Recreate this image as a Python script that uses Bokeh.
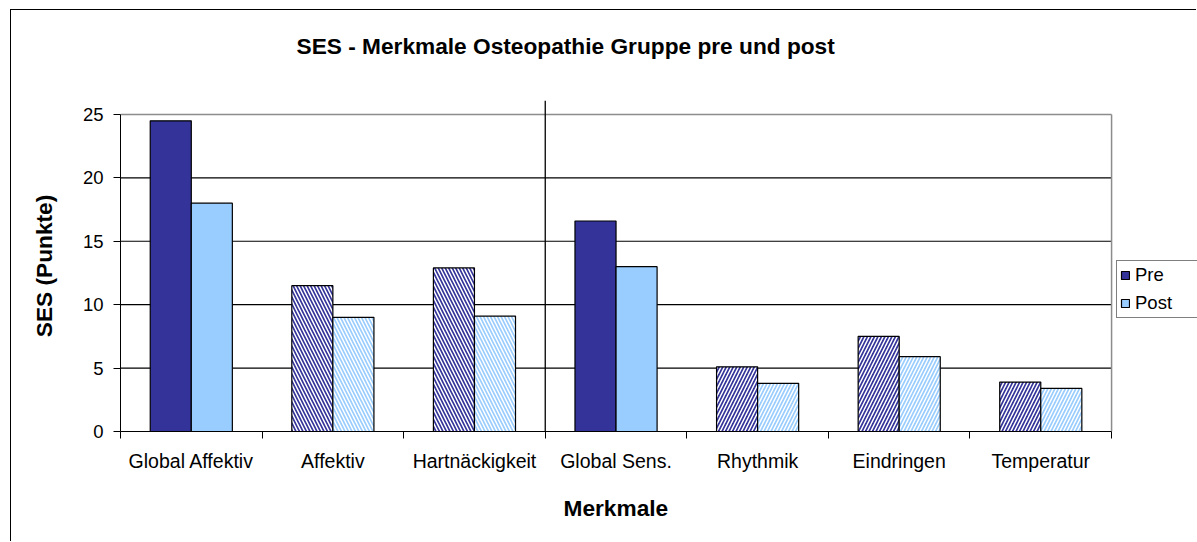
import numpy as np
from bokeh.plotting import figure
from bokeh.models import (ColumnDataSource, FixedTicker, Legend, LegendItem,
                          Span, Title)
from bokeh.core.properties import field
from bokeh.embed import file_html
from bokeh.resources import INLINE

# ---- data ----
categories = ["Global Affektiv", "Affektiv", "Hartnäckigkeit", "Global Sens.",
              "Rhythmik", "Eindringen", "Temperatur"]
pre = [24.5, 11.5, 12.9, 16.6, 5.1, 7.5, 3.9]
post = [18.0, 9.0, 9.1, 13.0, 3.8, 5.9, 3.4]
series = ["Pre", "Post"]
y_ticks = [0, 5, 10, 15, 20, 25]
first_group_size = 3
title_text = "SES - Merkmale Osteopathie Gruppe pre und post"
x_label = "Merkmale"
y_label = "SES (Punkte)"

# ---- styles ----
patterns = [" ", "\\", "\\", " ", "/", "/", "/"]
PRE_COL = "#333399"
POST_COL = "#99CCFF"
GREY = "#8c8c8c"
FONT = "Liberation Sans"

n = len(categories)
centers = np.arange(n) + 0.5
bw = 0.29
src = ColumnDataSource(dict(x_pre=centers - bw / 2, x_post=centers + bw / 2,
                            pre=pre, post=post, pat=patterns))

ymax = y_ticks[-1]
grid_vals = [t for t in y_ticks if 0 < t < ymax]

# frame runs on to the right canvas edge so that the legend can sit in it
p = figure(width=1186, height=532, x_range=(0, n * 1.0867), y_range=(0, ymax * 1.044),
           output_backend="svg", toolbar_location=None,
           min_border_left=109, min_border_right=0,
           min_border_top=90, min_border_bottom=110)
p.styles = {"margin-left": "10px", "margin-top": "9px",
            "border-left": "1px solid black", "border-top": "1px solid black"}

p.add_layout(Title(text=" ", text_font_size="20px", standoff=16), "above")
p.add_layout(Title(text=title_text, align="left", offset=176, standoff=4,
                   text_font=FONT, text_font_size="22.7px", text_font_style="bold",
                   text_color="black"), "above")

# horizontal grid lines limited to the plot area
p.segment(x0=[0] * len(grid_vals), x1=[n] * len(grid_vals), y0=grid_vals, y1=grid_vals,
          line_color="black", line_width=1.2)
# plot-area border (top and right, grey)
p.segment(x0=[0, n], y0=[ymax, 0], x1=[n, n], y1=[ymax, ymax],
          line_color=GREY, line_width=1.5)

r_pre = p.vbar(x="x_pre", top="pre", bottom=0, width=bw, source=src,
               fill_color=PRE_COL, line_color="black", line_width=1.2,
               hatch_pattern=field("pat"), hatch_color="white",
               hatch_weight=1.5, hatch_scale=7)
r_post = p.vbar(x="x_post", top="post", bottom=0, width=bw, source=src,
                fill_color=POST_COL, line_color="black", line_width=1.2,
                hatch_pattern=field("pat"), hatch_color="white",
                hatch_weight=1.5, hatch_scale=7)

# axes
xa = p.xaxis[0]
xa.ticker = FixedTicker(ticks=list(centers), minor_ticks=list(range(n + 1)))
xa.bounds = (0, n)
xa.major_label_overrides = {float(c): name for c, name in zip(centers, categories)}
xa.major_tick_line_color = None
xa.major_tick_out = 7
xa.major_tick_in = 0
xa.minor_tick_line_color = "black"
xa.minor_tick_out = 7
xa.minor_tick_in = 0
xa.axis_line_color = "black"
xa.major_label_text_font = FONT
xa.major_label_text_font_size = "19.5px"
xa.major_label_text_color = "black"
xa.major_label_standoff = 11

p.add_layout(Title(text=x_label, align="left", offset=443, standoff=40,
                   vertical_align="top",
                   text_font=FONT, text_font_size="22.7px", text_font_style="bold",
                   text_color="black"), "below")

ya = p.yaxis[0]
ya.ticker = FixedTicker(ticks=y_ticks)
ya.bounds = (0, ymax)
ya.minor_tick_line_color = None
ya.major_tick_out = 7
ya.major_tick_in = 0
ya.major_tick_line_color = "black"
ya.axis_line_color = "black"
ya.major_label_text_font = FONT
ya.major_label_text_font_size = "18.5px"
ya.major_label_text_color = "black"
ya.major_label_standoff = 10
ya.axis_label = y_label
ya.axis_label_text_font = FONT
ya.axis_label_text_font_size = "22.7px"
ya.axis_label_text_font_style = "bold"
ya.axis_label_text_color = "black"
ya.axis_label_standoff = 23

p.grid.visible = False
p.outline_line_color = None

# separator between the two groups
p.add_layout(Span(location=first_group_size, dimension="height",
                  line_color="black", line_width=1.3))

legend = Legend(items=[LegendItem(label=series[0], renderers=[r_pre], index=0),
                       LegendItem(label=series[1], renderers=[r_post], index=0)],
                location=(996, 113), orientation="vertical",
                border_line_color="black", border_line_width=1.2,
                background_fill_color="white", background_fill_alpha=1,
                label_text_font=FONT, label_text_font_size="18.5px",
                label_text_color="black",
                glyph_width=10, glyph_height=10, label_height=18, label_width=62,
                label_standoff=5, padding=3, spacing=6, margin=0)
p.add_layout(legend, "center")

p.background_fill_color = "white"
p.border_fill_color = "white"

open("out.html", "w").write(file_html(p, INLINE))
